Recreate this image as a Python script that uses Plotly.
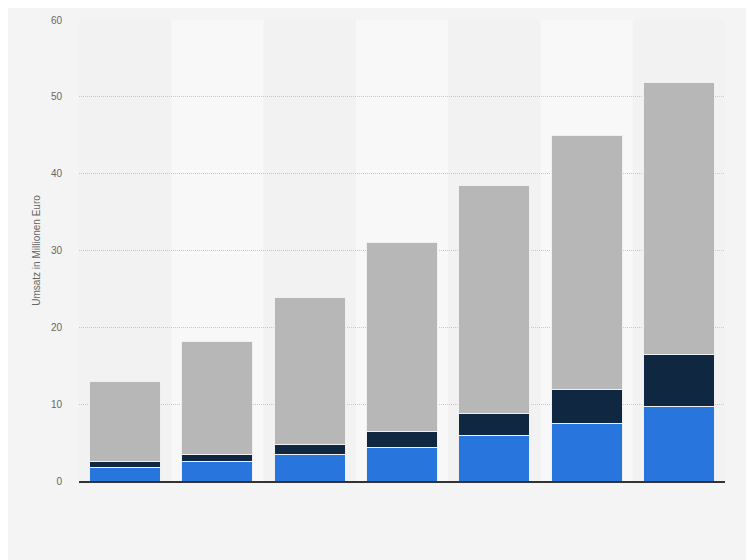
import plotly.graph_objects as go

categories = ["1", "2", "3", "4", "5", "6", "7"]
blue_values = [1.8, 2.5, 3.4, 4.4, 5.9, 7.5, 9.7]
navy_values = [0.8, 1.0, 1.3, 2.1, 2.95, 4.4, 6.7]
gray_values = [10.4, 14.7, 19.2, 24.5, 29.65, 33.1, 35.5]
y_ticks = [0, 10, 20, 30, 40, 50, 60]

fig = go.Figure()
line = dict(color="#f0f0f0", width=1)
fig.add_bar(x=categories, y=blue_values, marker=dict(color="#2876dd", line=line), name="a")
fig.add_bar(x=categories, y=navy_values, marker=dict(color="#0f2740", line=line), name="b")
fig.add_bar(x=categories, y=gray_values, marker=dict(color="#b7b7b7", line=line), name="c")

shapes = []
for i in range(len(categories)):
    if i % 2 == 1:
        shapes.append(dict(type="rect", xref="x", yref="paper", x0=i - 0.5, x1=i + 0.5,
                           y0=0, y1=1, fillcolor="#f8f8f8", line=dict(width=0), layer="below"))

fig.update_layout(
    barmode="stack",
    bargap=0.23,
    width=746, height=552,
    margin=dict(l=71, r=29, t=12, b=79),
    paper_bgcolor="#f4f4f4",
    plot_bgcolor="#f2f2f2",
    showlegend=False,
    shapes=shapes,
    font=dict(family="Arial, Liberation Sans, sans-serif", size=10, color="#666666"),
    xaxis=dict(showticklabels=False, showgrid=False, showline=True, linecolor="#333333",
               linewidth=1.5, ticks="", range=[-0.5, 6.5], automargin=False),
    yaxis=dict(range=[0, 60], tickvals=y_ticks, showgrid=True, gridcolor="#c8c8c8",
               griddash="1px,1px", gridwidth=1, zeroline=False, ticks="outside", ticklen=14,
               tickcolor="rgba(0,0,0,0)", automargin=False,
               title=dict(text="Umsatz in Millionen Euro", font=dict(size=10, color="#666666"), standoff=8),
               tickfont=dict(size=10, color="#666666")),
)

fig.write_html("out.html")
